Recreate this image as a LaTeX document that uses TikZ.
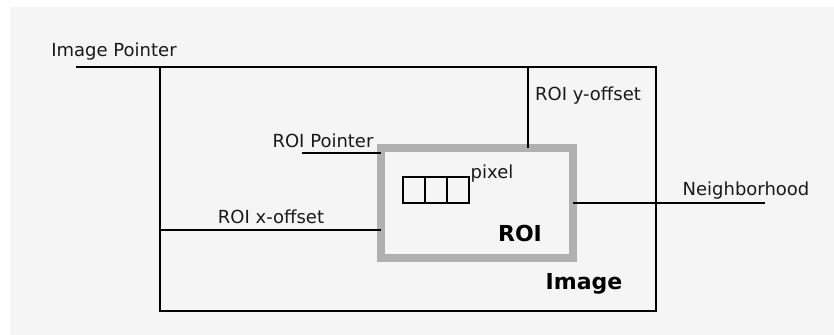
\documentclass[tikz,border=0pt]{standalone}
\usepackage{fontspec}
\setmainfont{DejaVu Sans}
\usetikzlibrary{positioning}
\definecolor{PageGray}{RGB}{245,245,245}
\definecolor{RoiGray}{RGB}{176,176,176}
\definecolor{InkGray}{RGB}{25,25,25}
\tikzset{
  frame/.style={draw=black,line width=1.3pt,inner sep=0pt,outer sep=0pt},
  roiframe/.style={draw=RoiGray,line width=6pt,inner sep=0pt,outer sep=0pt},
  cell/.style={draw=black,line width=0.9pt,minimum width=16.5pt,
    minimum height=19.5pt,inner sep=0pt,outer sep=0pt},
  tag/.style={anchor=base,inner sep=0pt,text=InkGray,
    font=\fontsize{13.5}{16}\selectfont},
  bigtag/.style={anchor=base,inner sep=0pt,text=black,
    font=\fontsize{16.5}{19}\selectfont\bfseries},
  wire/.style={draw=black,line width=1.1pt}
}

\begin{document}
\begin{tikzpicture}[x=0.75pt,y=-0.75pt]
  \fill[white] (0,0) rectangle (834,335);
  \fill[PageGray] (10,7) rectangle (834,335);
  \useasboundingbox (0,0) rectangle (834,335);
  \node[frame,minimum width=372pt,minimum height=183pt] (img) at (408,189) {};
  \node[roiframe,minimum width=144pt,minimum height=82.5pt] (roi) at (477,203) {};
  \coordinate (ptrend) at (76,67);
  \coordinate (roiptr) at (302,153);
  \coordinate (ycut) at (528,0);
  \coordinate (xcut) at (0,230);
  \coordinate (nbend) at (765,203);
  \draw[wire] (ptrend) -- (img.north west);
  \draw[wire] (ycut |- img.north) -- (ycut |- roi.north);
  \draw[wire] (xcut -| img.west) -- (xcut -| roi.west);
  \draw[wire] (roiptr) -- (roiptr -| roi.west);
  \draw[wire] (roi.east) -- (nbend);
  \node[cell] (p1) at (414,190) {};
  \node[cell,right=0pt of p1] (p2) {};
  \node[cell,right=0pt of p2] (p3) {};
  \node[tag] (imgptrlbl) at (114,57) {Image Pointer};
  \node[tag] (roiptrlbl) at (323,147) {ROI Pointer};
  \node[tag] (yofflbl) at (588,100) {ROI y-offset};
  \node[tag] (nblbl) at (746,195) {Neighborhood};
  \node[tag] (xofflbl) at (271,223) {ROI x-offset};
  \node[tag] (pixlbl) at (492,178) {pixel};
  \node[bigtag] (roilbl) at (520,241.5) {ROI};
  \node[bigtag] (imglbl) at (584,289) {Image};
\end{tikzpicture}
\end{document}
